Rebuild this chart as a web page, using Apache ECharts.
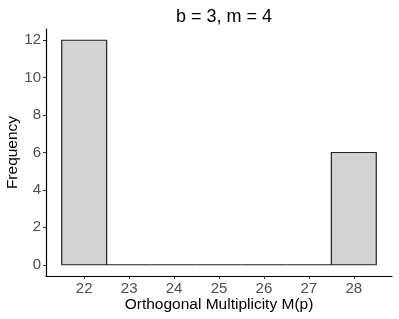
<!DOCTYPE html>
<html><head><meta charset="utf-8">
<script src="https://cdn.jsdelivr.net/npm/echarts@6/dist/echarts.min.js"></script>
<style>html,body{margin:0;padding:0;background:#fff}#c{width:399px;height:319px}</style>
</head><body><div id="c"></div>
<script>
const binCenters = [22, 23, 24, 25, 26, 27, 28];
const counts = [12, 0, 0, 0, 0, 0, 6];
const xTicks = [22, 23, 24, 25, 26, 27, 28];
const yTicks = [0, 2, 4, 6, 8, 10, 12];
const binWidth = 1;

const chart = echarts.init(document.getElementById('c'), null, {renderer: 'canvas'});
const font = 'Liberation Sans, Arial, Helvetica, sans-serif';
chart.setOption({
  animation: false,
  title: {text: 'b = 3, m = 4', left: 219, top: 3, textAlign: 'center',
    textStyle: {fontFamily: font, fontSize: 18, fontWeight: 'normal', color: '#000'}},
  grid: {left: 46, right: 7, top: 29, bottom: 43, outerBoundsMode: 'none', containLabel: false},
  xAxis: {
    type: 'value', min: 21.15, max: 28.85,
    name: 'Orthogonal Multiplicity M(p)', nameLocation: 'middle', nameGap: 21, nameMoveOverlap: false,
    nameTextStyle: {fontFamily: font, fontSize: 15.5, color: '#000', verticalAlign: 'top'},
    axisLine: {show: true, onZero: false, lineStyle: {color: '#000', width: 1.2}},
    axisTick: {show: true, length: 3, customValues: xTicks, lineStyle: {color: '#333'}},
    axisLabel: {customValues: xTicks, fontFamily: font, fontSize: 15, color: '#4d4d4d', margin: 5},
    splitLine: {show: false}
  },
  yAxis: {
    type: 'value', min: -0.6, max: 12.6,
    name: 'Frequency', nameLocation: 'middle', nameGap: 25, nameRotate: 90, nameMoveOverlap: false,
    nameTextStyle: {fontFamily: font, fontSize: 15.5, color: '#000', verticalAlign: 'bottom'},
    axisLine: {show: true, onZero: false, lineStyle: {color: '#000', width: 1.2}},
    axisTick: {show: true, length: 3, customValues: yTicks, lineStyle: {color: '#333'}},
    axisLabel: {customValues: yTicks, fontFamily: font, fontSize: 15, color: '#4d4d4d', margin: 5},
    splitLine: {show: false}
  },
  series: [{
    type: 'custom',
    data: binCenters.map((x, i) => [x, counts[i]]),
    renderItem: function (params, api) {
      const x = api.value(0), y = api.value(1);
      const p0 = api.coord([x - binWidth / 2, 0]);
      const p1 = api.coord([x + binWidth / 2, y]);
      return {
        type: 'rect',
        shape: {x: p0[0], y: p1[1], width: p1[0] - p0[0], height: p0[1] - p1[1]},
        style: {fill: '#d3d3d3', stroke: '#222', lineWidth: 1.2}
      };
    }
  }]
});
</script></body></html>
